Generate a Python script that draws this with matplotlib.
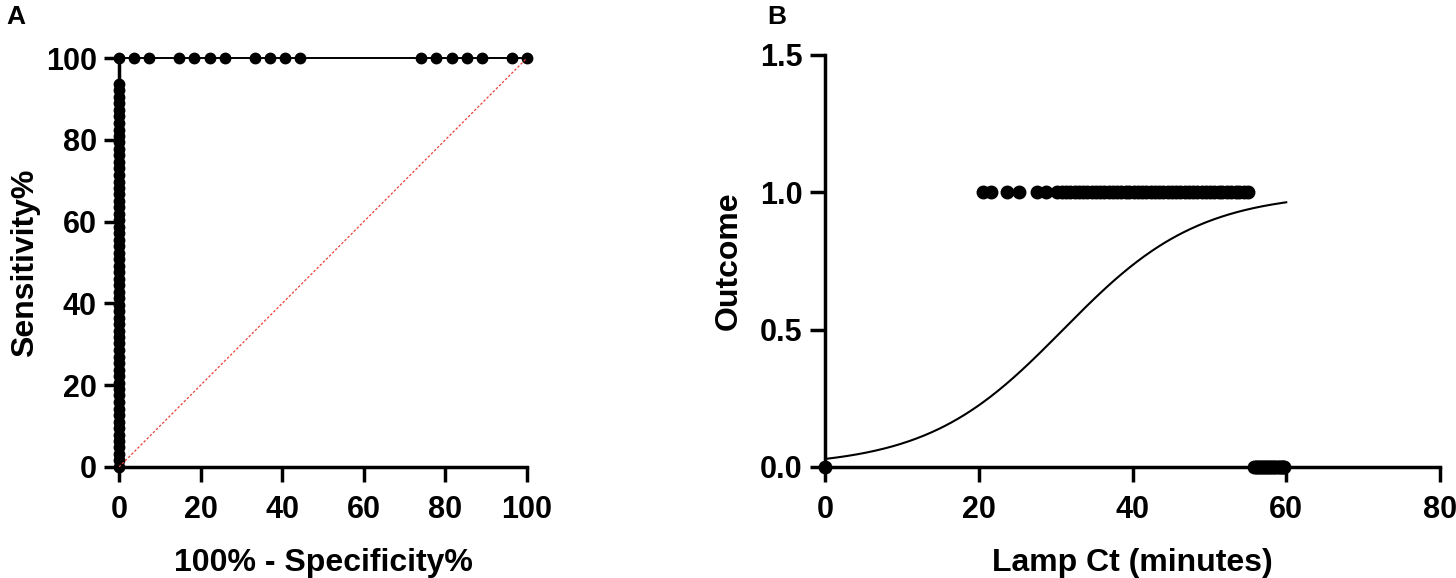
import matplotlib
matplotlib.use("Agg")
import matplotlib.pyplot as plt
import numpy as np

plt.rcParams['font.family'] = ['Liberation Sans', 'DejaVu Sans']
plt.rcParams['font.weight'] = 'bold'

# ---------------- Panel A data (ROC) ----------------
roc_fpr_top = [0, 3.7, 7.4, 14.8, 18.5, 22.2, 25.9, 33.3, 37.0, 40.7, 44.4,
               74.1, 77.8, 81.5, 85.2, 88.9, 96.3, 100]
roc_sens_left = [0, 1.6, 3.2, 4.8, 6.3, 7.9, 9.5, 11.1, 12.7, 14.3, 15.9, 17.5,
                 19.0, 20.6, 22.2, 23.8, 25.4, 27.0, 28.6, 30.2, 31.7, 33.3,
                 34.9, 36.5, 38.1, 39.7, 41.3, 42.9, 44.4, 46.0, 47.6, 49.2,
                 50.8, 52.4, 54.0, 55.6, 57.1, 58.7, 60.3, 61.9, 63.5, 65.1,
                 66.7, 68.3, 69.8, 71.4, 73.0, 74.6, 76.2, 77.8, 79.4, 81.0,
                 82.5, 84.1, 85.7, 87.3, 88.9, 90.5, 92.1, 93.7]
xticks_a = [0, 20, 40, 60, 80, 100]
yticks_a = [0, 20, 40, 60, 80, 100]

# ---------------- Panel B data (logistic) ----------------
ct_positive = [20.6, 21.6, 23.7, 25.2, 27.6, 28.7, 30.2, 30.8, 31.4, 31.9, 32.5,
               33.0, 33.6, 34.1, 34.7, 35.2, 35.8, 36.3, 36.9, 37.4, 38.0, 38.5,
               39.1, 39.6, 40.2, 40.7, 41.3, 41.8, 42.4, 42.9, 43.5, 44.0, 44.6,
               45.1, 45.7, 46.2, 46.8, 47.3, 47.9, 48.4, 49.0, 49.5, 50.1, 50.6,
               51.2, 51.7, 52.3, 52.8, 53.4, 53.9, 54.5, 55.0]
ct_negative = [0, 55.8, 56.0, 56.2, 56.4, 56.6, 56.8, 57.0, 57.2, 57.4, 57.6,
               57.8, 58.0, 58.2, 58.4, 58.6, 58.8, 59.0, 59.2, 59.4, 59.6, 59.7]
logit_intercept = -3.5
logit_slope = 0.113
curve_range = (0, 60)
xticks_b = [0, 20, 40, 60, 80]
yticks_b = [0.0, 0.5, 1.0, 1.5]

W, H = 1456, 578
fig = plt.figure(figsize=(W / 100, H / 100), dpi=100)

def style(ax):
    for s in ['top', 'right']:
        ax.spines[s].set_visible(False)
    for s in ['left', 'bottom']:
        ax.spines[s].set_linewidth(2.5)
        ax.spines[s].set_capstyle('projecting')
    ax.tick_params(width=2.5, length=11, labelsize=22)
    ax.tick_params(axis='x', pad=9)
    ax.tick_params(axis='y', pad=5)
    for lab in ax.get_xticklabels() + ax.get_yticklabels():
        lab.set_fontweight('bold')

# Panel A
axA = fig.add_axes([119 / W, (H - 467) / H, (527 - 119) / W, (467 - 58) / H])
axA.plot([0, 0, 100], [0, 100, 100], color='black', lw=1.4, zorder=2, clip_on=False)
axA.plot(roc_fpr_top, [100] * len(roc_fpr_top), 'o', color='black', ms=7.5,
         clip_on=False, zorder=3)
axA.plot([0] * len(roc_sens_left), roc_sens_left, 'o', color='black', ms=7.5,
         clip_on=False, zorder=3)
axA.plot([0, 100], [0, 100], color='#e8413c', lw=0.9, ls=(0, (2, 1.5)), zorder=4)
axA.set_xlim(0, 100)
axA.set_ylim(0, 100)
axA.set_xticks(xticks_a)
axA.set_yticks(yticks_a)
style(axA)
axA.set_xlabel('100% - Specificity%', fontsize=23, fontweight='bold', labelpad=17)
axA.set_ylabel('Sensitivity%', fontsize=23, fontweight='bold', labelpad=4)

# Panel B
axB = fig.add_axes([825 / W, (H - 467) / H, (1440 - 825) / W, (467 - 55) / H])
xc = np.linspace(curve_range[0], curve_range[1], 300)
yc = 1 / (1 + np.exp(-(logit_intercept + logit_slope * xc)))
axB.plot(xc, yc, color='black', lw=1.5, zorder=2)
axB.plot(ct_positive, [1.0] * len(ct_positive), 'o', color='black', ms=9,
         clip_on=False, zorder=3)
axB.plot(ct_negative, [0.0] * len(ct_negative), 'o', color='black', ms=9,
         clip_on=False, zorder=3)
axB.set_xlim(0, 80)
axB.set_ylim(0, 1.5)
axB.set_xticks(xticks_b)
axB.set_yticks(yticks_b)
axB.set_yticklabels([f'{v:.1f}' for v in yticks_b])
style(axB)
axB.set_xlabel('Lamp Ct (minutes)', fontsize=23, fontweight='bold', labelpad=17)
axB.set_ylabel('Outcome', fontsize=23, fontweight='bold', labelpad=12)

fig.text(6 / W, 1 - 17 / H, 'A', fontsize=19, fontweight='bold', va='center')
fig.text(767 / W, 1 - 17 / H, 'B', fontsize=19, fontweight='bold', va='center')

fig.savefig('out.png', dpi=100)
